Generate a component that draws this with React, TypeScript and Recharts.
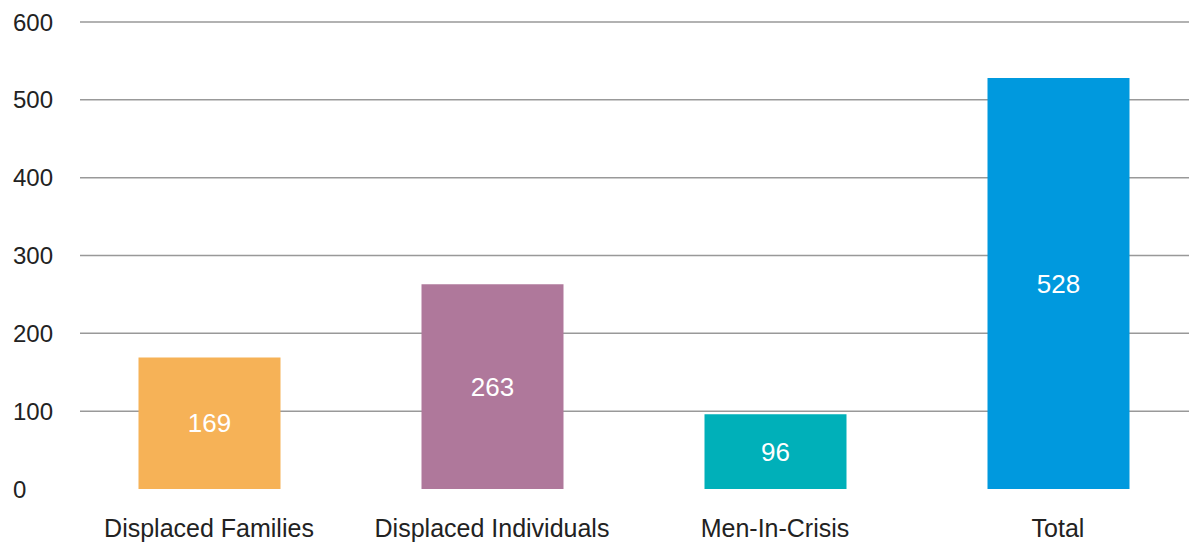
import React from "react";
import { BarChart, Bar, XAxis, YAxis, CartesianGrid, Cell, LabelList } from "recharts";

const categories = ["Displaced Families", "Displaced Individuals", "Men-In-Crisis", "Total"];
const values = [169, 263, 96, 528];
const barColors = ["#F6B257", "#AF789B", "#00B0B9", "#0099DE"];
const yTicks = [0, 100, 200, 300, 400, 500, 600];
const gridValues = [100, 200, 300, 400, 500, 600];

const data = categories.map((name, i) => ({ name, value: values[i] }));

const FONT = "'Liberation Sans', Arial, Helvetica, sans-serif";

const YTick = (props: any) => {
  const { y, payload } = props;
  return (
    <text x={13} y={y} dy={8.5} textAnchor="start" fontSize={24} fontFamily={FONT} fill="#222">
      {payload.value}
    </text>
  );
};

const XTick = (props: any) => {
  const { x, y, payload } = props;
  return (
    <text x={x} y={y} dy={39.5} textAnchor="middle" fontSize={25} fontFamily={FONT} fill="#222">
      {payload.value}
    </text>
  );
};

export default function App() {
  return (
    <div style={{ position: "absolute", left: 0, top: 0, width: 1189, height: 543, overflow: "hidden", background: "#fff" }}>
      <BarChart width={1189} height={543} data={data} margin={{ top: 22, right: 0, bottom: 0, left: 0 }}>
        <CartesianGrid vertical={false} horizontalValues={gridValues} stroke="#999" strokeWidth={1.5} />
        <XAxis
          dataKey="name"
          axisLine={false}
          tickLine={false}
          height={54}
          padding={{ left: -12.5, right: -10.5 }}
          tick={<XTick />}
          interval={0}
        />
        <YAxis
          width={80}
          domain={[0, 600]}
          ticks={yTicks}
          axisLine={false}
          tickLine={false}
          tick={<YTick />}
          interval={0}
        />
        <Bar dataKey="value" barSize={142} isAnimationActive={false}>
          {data.map((d, i) => (
            <Cell key={d.name} fill={barColors[i]} />
          ))}
          <LabelList dataKey="value" position="center" fill="#fff" fontSize={26} fontFamily={FONT} />
        </Bar>
      </BarChart>
    </div>
  );
}
